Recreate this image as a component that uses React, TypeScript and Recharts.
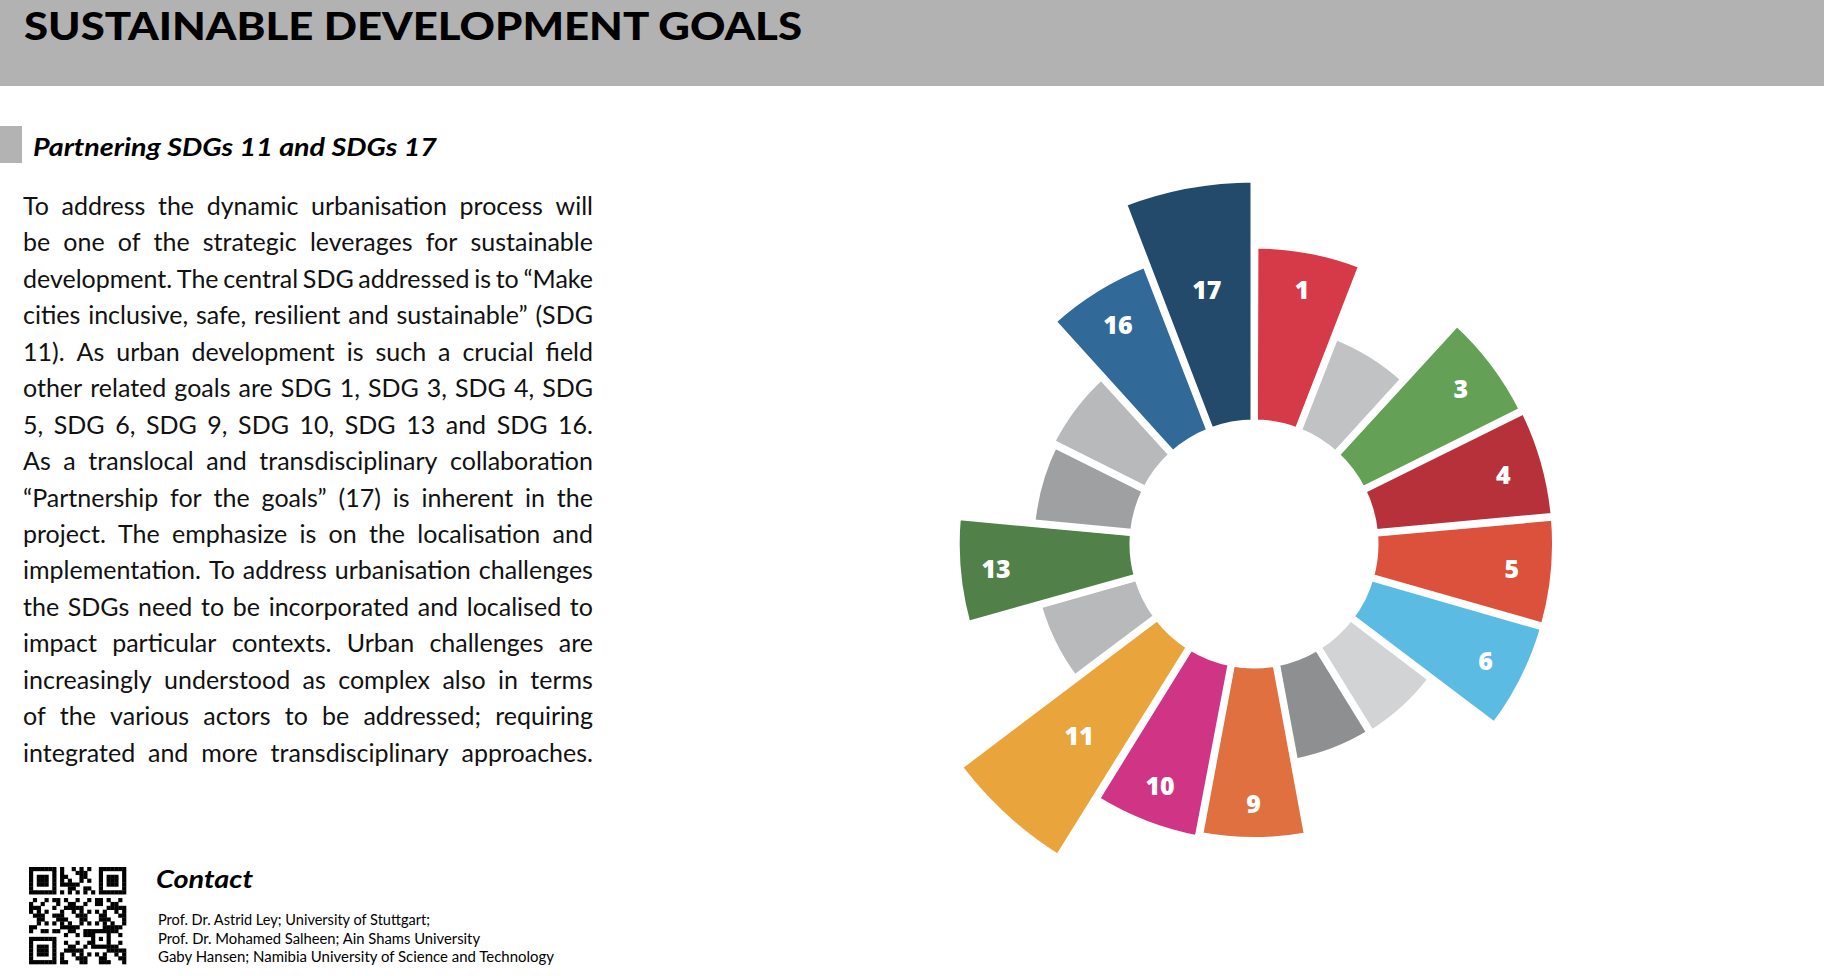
import React from 'react';
import { RadialBarChart, RadialBar, PolarAngleAxis, PolarRadiusAxis, LabelList, Cell } from 'recharts';

// ---------- DATA ----------
const goals = ['1', '2', '3', '4', '5', '6', '7', '8', '9', '10', '11', '12', '13', '14', '15', '16', '17'];
const relevance = [71.5, 41, 72, 72.5, 72.5, 72.5, 41, 40.5, 70.5, 72, 100, 41.5, 71, 41, 42.5, 72, 98];
const goalLabels = ['1', '', '3', '4', '5', '6', '', '', '9', '10', '11', '', '13', '', '', '16', '17'];
const goalColors = [
  '#D63A48', '#C1C2C4', '#64A055', '#B7313A', '#DC513B', '#5BBBE2', '#D2D3D5', '#8E8F91',
  '#E07040', '#CF3584', '#E9A53C', '#B8B9BB', '#518149', '#9FA0A2', '#B8B9BB', '#316A98', '#244A6B',
];

const titleText = 'SUSTAINABLE DEVELOPMENT GOALS';
const subtitleText = 'Partnering SDGs 11 and SDGs 17';
const paragraphLines = [
  'To address the dynamic urbanisation process will',
  'be one of the strategic leverages for sustainable',
  'development. The central SDG addressed is to \u201CMake',
  'cities inclusive, safe, resilient and sustainable\u201D (SDG',
  '11). As urban development is such a crucial field',
  'other related goals are SDG 1, SDG 3, SDG 4, SDG',
  '5, SDG 6, SDG 9, SDG 10, SDG 13 and SDG 16.',
  'As a translocal and transdisciplinary collaboration',
  '\u201CPartnership for the goals\u201D (17) is inherent in the',
  'project. The emphasize is on the localisation and',
  'implementation. To address urbanisation challenges',
  'the SDGs need to be incorporated and localised to',
  'impact particular contexts. Urban challenges are',
  'increasingly understood as complex also in terms',
  'of the various actors to be addressed; requiring',
  'integrated and more transdisciplinary approaches.',
];
const contactTitle = 'Contact';
const contactLines = [
  'Prof. Dr. Astrid Ley; University of Stuttgart;',
  'Prof. Dr. Mohamed Salheen; Ain Shams University',
  'Gaby Hansen; Namibia University of Science and Technology',
];

const data = goals.map((g, i) => ({ goal: g, value: relevance[i], label: goalLabels[i] }));

// ---------- LAYOUT ----------
const CHART_SIZE = 800;
const CX = 400;
const CY = 400;
const LABEL_R = 259;
const STEP = 360 / goals.length;
const START_ANGLE = 90 - STEP;

const renderLabel = (props: any) => {
  const { viewBox, value, index } = props;
  if (!value) return null;
  const vb = viewBox || {};
  const cx = vb.cx ?? CX;
  const cy = vb.cy ?? CY;
  const mid =
    vb.startAngle != null && vb.endAngle != null
      ? (vb.startAngle + vb.endAngle) / 2
      : 90 - (index + 0.5) * STEP;
  const rad = (-mid * Math.PI) / 180;
  return (
    <text
      x={cx + LABEL_R * Math.cos(rad)}
      y={cy + LABEL_R * Math.sin(rad)}
      fill="#fff"
      fontFamily="'Open Sans', sans-serif"
      fontWeight={800}
      fontSize={25}
      textAnchor="middle"
      dominantBaseline="central"
    >
      {value}
    </text>
  );
};

const QR_N = 25;
const isFinder = (r: number, c: number) => {
  const inBox = (r0: number, c0: number) => r >= r0 && r < r0 + 7 && c >= c0 && c < c0 + 7;
  return inBox(0, 0) || inBox(0, QR_N - 7) || inBox(QR_N - 7, 0);
};
const finderOn = (r: number, c: number) => {
  const lr = r >= QR_N - 7 ? r - (QR_N - 7) : r;
  const lc = c >= QR_N - 7 ? c - (QR_N - 7) : c;
  if (lr === 0 || lr === 6 || lc === 0 || lc === 6) return true;
  return lr >= 2 && lr <= 4 && lc >= 2 && lc <= 4;
};
const qrCells: { r: number; c: number }[] = [];
for (let r = 0; r < QR_N; r++) {
  for (let c = 0; c < QR_N; c++) {
    let on = false;
    if (isFinder(r, c)) on = finderOn(r, c);
    else if ((r === 7 && c < 8) || (c === 7 && r < 8) || (r === 7 && c >= QR_N - 8) || (c === QR_N - 8 && r < 8) || (r === QR_N - 8 && c < 8) || (c === 7 && r >= QR_N - 8)) on = false;
    else if (r >= 16 && r <= 20 && c >= 16 && c <= 20) {
      const lr = r - 16, lc = c - 16;
      on = lr === 0 || lr === 4 || lc === 0 || lc === 4 || (lr === 2 && lc === 2);
    } else if (r === 6) on = c % 2 === 0;
    else if (c === 6) on = r % 2 === 0;
    else on = ((r * 31 + c * 17 + r * c * 7) % 11) < 5;
    if (on) qrCells.push({ r, c });
  }
}

export default function App() {
  const qrSize = 97;
  const m = qrSize / QR_N;
  return (
    <div style={{ position: 'absolute', left: 0, top: 0, width: 1824, height: 976, background: '#fff', overflow: 'hidden' }}>
      {/* header */}
      <div style={{ position: 'absolute', left: 0, top: 0, width: 1824, height: 86, background: '#B2B2B2' }} />
      <div style={{ position: 'absolute', left: 0, top: 126, width: 22, height: 37, background: '#B3B3B3' }} />

      <svg width={1824} height={976} style={{ position: 'absolute', left: 0, top: 0 }}>
        <text x={24} y={40} fontFamily="Lato, sans-serif" fontWeight={900} fontSize={38} fill="#000" textLength={778} lengthAdjust="spacingAndGlyphs">
          {titleText}
        </text>
        <text x={33} y={156} fontFamily="Lato, sans-serif" fontWeight={700} fontStyle="italic" fontSize={24} fill="#000" textLength={404} lengthAdjust="spacingAndGlyphs">
          {subtitleText}
        </text>
        <text x={156} y={888} fontFamily="Lato, sans-serif" fontWeight={700} fontStyle="italic" fontSize={25} fill="#000" textLength={97} lengthAdjust="spacingAndGlyphs">
          {contactTitle}
        </text>
        {contactLines.map((t, i) => (
          <text key={i} x={158} y={925 + i * 18.5} fontFamily="Lato, sans-serif" fontSize={14.5} fill="#000" textLength={[272, 322, 396][i]} lengthAdjust="spacingAndGlyphs">
            {t}
          </text>
        ))}
        <g transform="translate(29,867)">
          {qrCells.map((q, i) => (
            <rect key={i} x={q.c * m} y={q.r * m} width={m + 0.3} height={m + 0.3} fill="#000" />
          ))}
        </g>
      </svg>

      {/* paragraph */}
      <div style={{ position: 'absolute', left: 23, top: 187, width: 570, fontFamily: 'Lato, sans-serif', fontSize: 25, lineHeight: '36.45px', color: '#111' }}>
        {paragraphLines.map((line, i) => (
          <div key={i} style={{ display: 'flex', justifyContent: 'space-between', whiteSpace: 'nowrap', height: 36.45 }}>
            {line.split(' ').map((w, j) => (
              <span key={j}>{w}</span>
            ))}
          </div>
        ))}
      </div>

      {/* chart */}
      <div style={{ position: 'absolute', left: 1254 - CX, top: 544 - CY, width: CHART_SIZE, height: CHART_SIZE }}>
        <RadialBarChart
          width={CHART_SIZE}
          height={CHART_SIZE}
          cx={CX}
          cy={CY}
          innerRadius={121}
          outerRadius={370}
          startAngle={START_ANGLE}
          endAngle={START_ANGLE - 360}
          layout="centric"
          data={data}
          barCategoryGap={0}
          barGap={0}
          margin={{ top: 0, right: 0, bottom: 0, left: 0 }}
        >
          <PolarAngleAxis type="category" dataKey="goal" tick={false} axisLine={false} tickLine={false} />
          <PolarRadiusAxis type="number" domain={[0, 100]} tick={false} axisLine={false} tickLine={false} />
          <RadialBar dataKey="value" isAnimationActive={false} stroke="#fff" strokeWidth={7}>
            {data.map((d, i) => (
              <Cell key={i} fill={goalColors[i]} />
            ))}
            <LabelList dataKey="label" content={renderLabel} />
          </RadialBar>
        </RadialBarChart>
      </div>
    </div>
  );
}
